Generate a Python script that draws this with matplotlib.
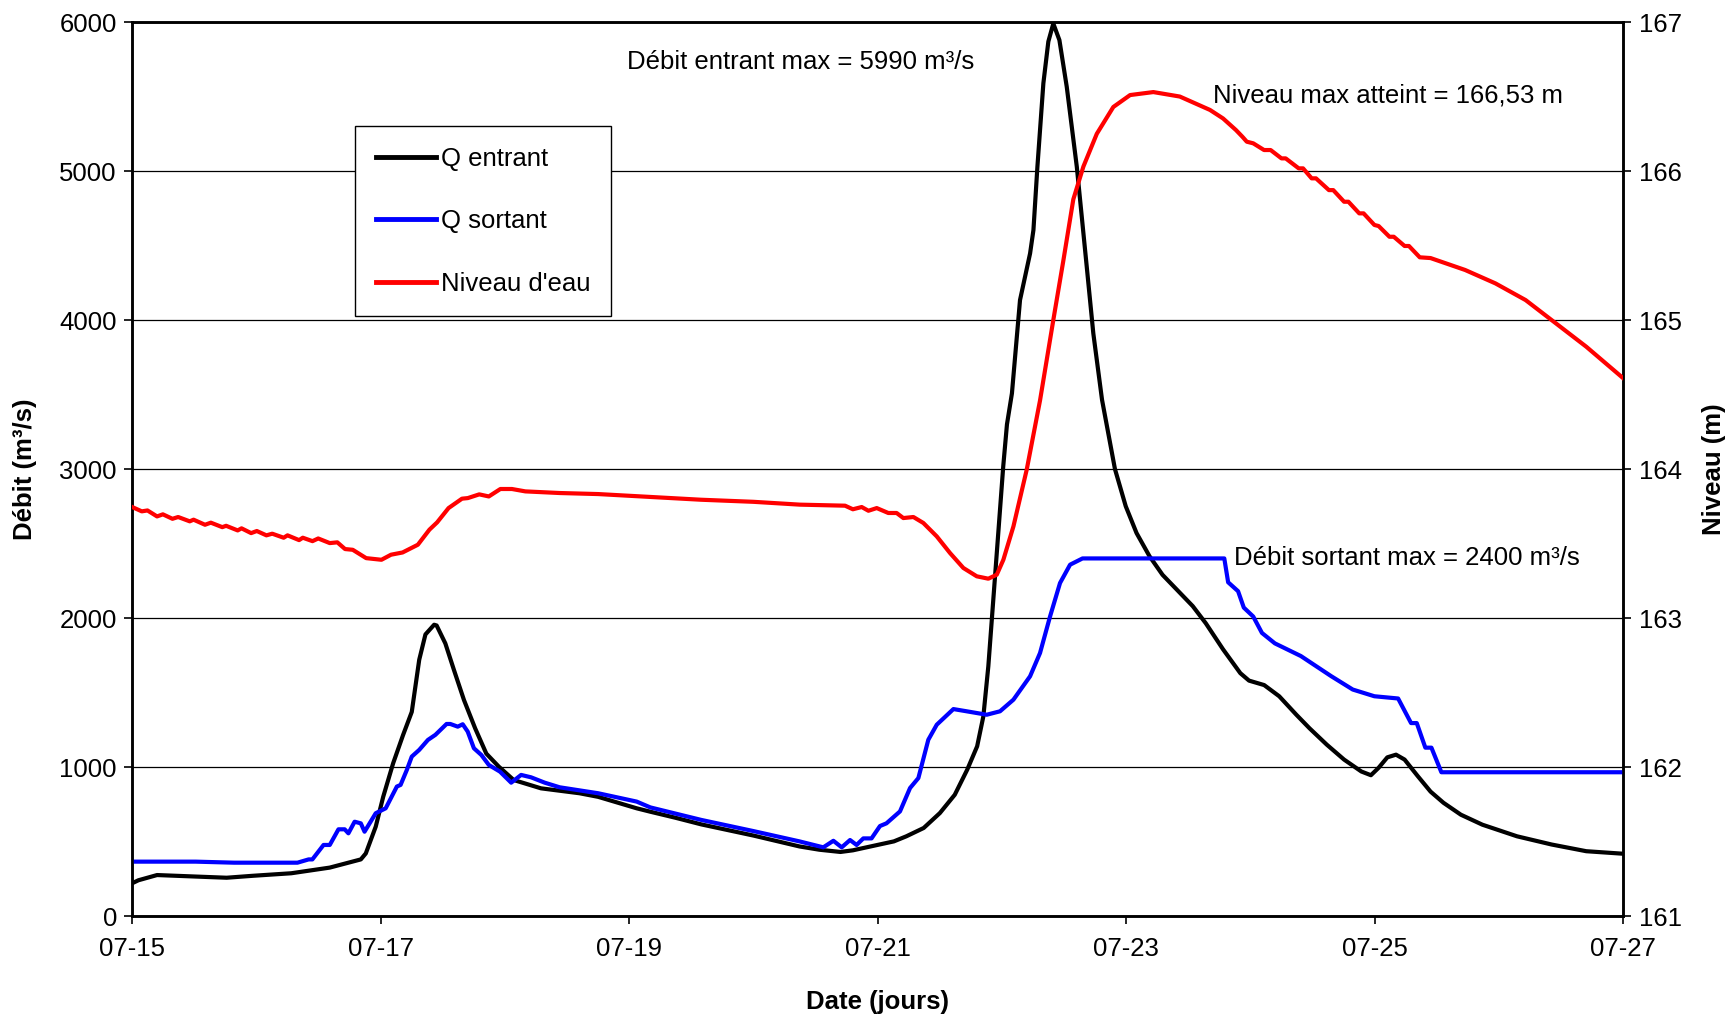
import matplotlib
matplotlib.use("Agg")
import matplotlib.pyplot as plt
from matplotlib.lines import Line2D

plt.rcParams['font.family'] = ['Liberation Sans', 'DejaVu Sans']

# ---- data (x = days since 07-15) ----
q_in_day = [0, 0.05, 0.2, 0.51, 0.76, 0.97, 1.28, 1.59, 1.84, 1.88, 1.96, 2.02, 2.1, 2.18,
            2.25, 2.31, 2.36, 2.43, 2.45, 2.52, 2.59, 2.67, 2.76, 2.85, 2.95, 3.07, 3.29,
            3.6, 3.75, 4.06, 4.17, 4.37, 4.58, 5.0, 5.37, 5.53, 5.7, 5.8, 5.97, 6.13, 6.23,
            6.37, 6.5, 6.62, 6.72, 6.8, 6.85, 6.89, 6.93, 6.97, 7.01, 7.04, 7.08, 7.145,
            7.226, 7.253, 7.285, 7.333, 7.373, 7.413, 7.462, 7.521, 7.602, 7.682, 7.735,
            7.805, 7.909, 7.996, 8.083, 8.187, 8.292, 8.535, 8.64, 8.779, 8.918, 8.988,
            9.11, 9.231, 9.37, 9.475, 9.614, 9.753, 9.892, 9.969, 10.031, 10.101, 10.171,
            10.24, 10.345, 10.449, 10.553, 10.693, 10.866, 11.145, 11.423, 11.702, 12.0]
q_in_val = [220, 240, 275, 265, 257, 270, 287, 325, 380, 420, 600, 800, 1025, 1215,
            1370, 1720, 1890, 1955, 1950, 1830, 1650, 1450, 1260, 1090, 1003, 913, 857,
            824, 800, 723, 700, 660, 615, 540, 467, 445, 430, 441, 472, 501, 535,
            591, 691, 814, 982, 1139, 1340, 1676, 2123, 2570, 3018, 3300, 3508, 4134,
            4447, 4604, 5029, 5589, 5869, 5990, 5879, 5566, 5029, 4358, 3910,
            3465, 3000, 2750, 2570, 2415, 2290, 2080, 1965, 1790, 1630, 1580,
            1550, 1475, 1350, 1260, 1150, 1050, 970, 945, 995, 1065, 1083,
            1050, 940, 835, 760, 680, 613, 535, 480, 435, 418]

q_out_day = [0, 0.51, 0.82, 1.33, 1.42, 1.45, 1.54, 1.59, 1.66, 1.71, 1.74, 1.79, 1.84,
             1.87, 1.96, 2.04, 2.13, 2.16, 2.21, 2.25, 2.31, 2.38, 2.44, 2.53, 2.56, 2.62,
             2.66, 2.7, 2.75, 2.81, 2.87, 2.96, 3.05, 3.13, 3.21, 3.32, 3.44, 3.75, 4.06,
             4.17, 4.58, 5.0, 5.37, 5.562, 5.643, 5.71, 5.777, 5.83, 5.884, 5.95, 6.018,
             6.07, 6.179, 6.26, 6.327, 6.407, 6.475, 6.609, 6.716, 6.877, 6.984, 7.092,
             7.226, 7.306, 7.387, 7.467, 7.548, 7.648, 8.789, 8.82, 8.9, 8.946, 9.022,
             9.092, 9.196, 9.405, 9.649, 9.823, 9.997, 10.188, 10.292, 10.338, 10.407,
             10.456, 10.536, 12.0]
q_out_val = [365, 365, 358, 358, 380, 380, 477, 477, 582, 582, 555, 633, 622,
             566, 690, 723, 869, 880, 980, 1070, 1115, 1182, 1216, 1289, 1289, 1271,
             1287, 1238, 1126, 1081, 1014, 969, 895, 947, 931, 895, 864, 824, 768,
             729, 645, 570, 501, 461, 505, 461, 510, 477, 521, 521, 604,
             622, 702, 859, 926, 1183, 1284, 1389, 1374, 1351, 1374, 1452,
             1609, 1765, 2011, 2235, 2358, 2400, 2400, 2240, 2180, 2070, 2010,
             1900, 1830, 1745, 1610, 1520, 1475, 1460, 1295, 1295, 1130,
             1130, 965, 965]

lvl_day = [0, 0.077, 0.123, 0.2, 0.247, 0.324, 0.37, 0.463, 0.494, 0.586, 0.633, 0.725,
           0.756, 0.849, 0.88, 0.957, 1.003, 1.08, 1.127, 1.219, 1.25, 1.343, 1.373, 1.451,
           1.497, 1.59, 1.651, 1.713, 1.775, 1.883, 2.006, 2.083, 2.176, 2.299, 2.392,
           2.454, 2.546, 2.654, 2.701, 2.793, 2.87, 2.963, 3.056, 3.164, 3.441, 3.75,
           4.577, 5.0, 5.373, 5.737, 5.8, 5.871, 5.925, 5.992, 6.085, 6.152, 6.206, 6.287,
           6.367, 6.475, 6.582, 6.689, 6.797, 6.89, 6.958, 7.011, 7.092, 7.199, 7.306,
           7.413, 7.494, 7.574, 7.655, 7.763, 7.896, 8.031, 8.218, 8.431, 8.674,
           8.779, 8.883, 8.935, 8.97, 9.022, 9.109, 9.162, 9.249, 9.283, 9.388, 9.423,
           9.492, 9.527, 9.631, 9.666, 9.753, 9.788, 9.875, 9.91, 9.997, 10.031, 10.118,
           10.153, 10.24, 10.275, 10.362, 10.449, 10.727, 10.971, 11.214, 11.423, 11.702,
           12.0]
lvl_val = [163.745, 163.716, 163.722, 163.682, 163.696, 163.666, 163.678, 163.649, 163.66,
           163.626, 163.64, 163.61, 163.619, 163.588, 163.602, 163.57, 163.584, 163.555,
           163.566, 163.539, 163.555, 163.523, 163.539, 163.516, 163.534, 163.503, 163.508,
           163.463, 163.458, 163.402, 163.391, 163.425, 163.44, 163.492, 163.593, 163.642,
           163.738, 163.801, 163.805, 163.83, 163.816, 163.866, 163.866, 163.85, 163.839,
           163.832, 163.794, 163.78, 163.761, 163.754, 163.73, 163.745, 163.72, 163.738,
           163.705, 163.705, 163.671, 163.678, 163.638, 163.548, 163.436, 163.336, 163.28,
           163.264, 163.291, 163.391, 163.615, 163.996, 164.46,
           165.0, 165.40, 165.81, 166.03, 166.25, 166.43, 166.51, 166.53, 166.50, 166.41,
           166.353, 166.275, 166.23, 166.197, 166.186, 166.141, 166.141, 166.085, 166.085,
           166.018, 166.018, 165.951, 165.951, 165.872, 165.872, 165.794, 165.794, 165.716,
           165.716, 165.638, 165.631, 165.559, 165.559, 165.497, 165.497, 165.421, 165.416,
           165.336, 165.246, 165.134, 165.0, 164.821, 164.609]

x_ticks = [0, 2, 4, 6, 8, 10, 12]
x_labels = ['07-15', '07-17', '07-19', '07-21', '07-23', '07-25', '07-27']
y_left_ticks = [0, 1000, 2000, 3000, 4000, 5000, 6000]
y_right_ticks = [161, 162, 163, 164, 165, 166, 167]

FS = 18.5
LW = 3.0
fig = plt.figure(figsize=(17.28, 10.16), dpi=100)
ax = fig.add_axes([0.0765, 0.0984, 0.8629, 0.8799])
ax2 = ax.twinx()

ax.plot(q_in_day, q_in_val, color='black', lw=LW, zorder=3, solid_joinstyle='round')
ax.plot(q_out_day, q_out_val, color='#0000ff', lw=LW, zorder=4, solid_joinstyle='round')
ax2.plot(lvl_day, lvl_val, color='#ff0000', lw=LW, zorder=3, solid_joinstyle='round')

ax.set_xlim(0, 12)
ax.set_ylim(0, 6000)
ax2.set_ylim(161, 167)
ax.set_xticks(x_ticks)
ax.set_xticklabels(x_labels)
ax.set_yticks(y_left_ticks)
ax2.set_yticks(y_right_ticks)
ax.yaxis.grid(True, color='black', lw=0.9)
ax.set_axisbelow(True)

for a in (ax, ax2):
    for s in a.spines.values():
        s.set_linewidth(1.8)
    a.tick_params(axis='both', labelsize=FS, width=1.2, length=6, direction='out', pad=5)
ax.tick_params(axis='x', pad=9)

ax.set_xlabel('Date (jours)', fontsize=FS, fontweight='bold', labelpad=21)
ax.set_ylabel('Débit (m³/s)', fontsize=FS, fontweight='bold', labelpad=16)
ax2.set_ylabel('Niveau (m)', fontsize=FS, fontweight='bold', labelpad=15)

ax.text(3.98, 5733, 'Débit entrant max = 5990 m³/s', fontsize=FS, va='center', ha='left')
ax.text(8.70, 5510, 'Niveau max atteint = 166,53 m', fontsize=FS, va='center', ha='left')
ax.text(8.865, 2400, 'Débit sortant max = 2400 m³/s', fontsize=FS, va='center', ha='left')

handles = [Line2D([], [], color='black', lw=3.5),
           Line2D([], [], color='#0000ff', lw=3.5),
           Line2D([], [], color='#ff0000', lw=3.5)]
leg = ax2.legend(handles, ['Q entrant', 'Q sortant', "Niveau d'eau"],
                 loc='upper left', bbox_to_anchor=(0.1494, 0.8837), fontsize=FS,
                 frameon=True, fancybox=False, edgecolor='black', framealpha=1,
                 handlelength=2.35, handletextpad=0.2, labelspacing=1.5,
                 borderpad=0.8, borderaxespad=0)
leg.get_frame().set_linewidth(1.0)

fig.savefig('out.png', dpi=100)
